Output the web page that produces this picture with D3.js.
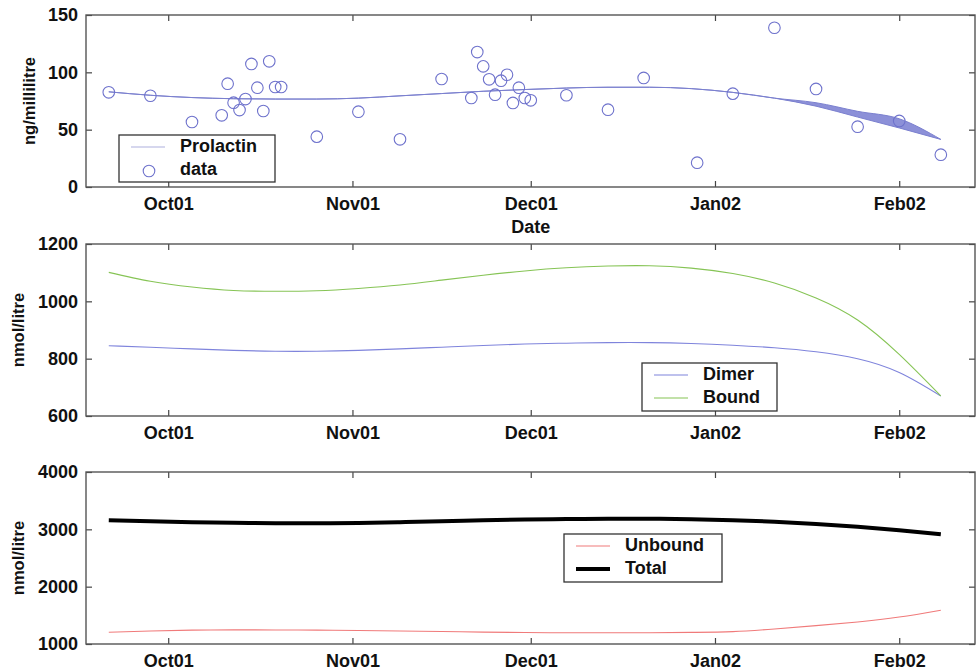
<!DOCTYPE html>
<html>
<head>
<meta charset="utf-8">
<script src="https://cdn.jsdelivr.net/npm/d3@7"></script>
<style>
  html, body { margin: 0; padding: 0; background: #fff; }
  svg { display: block; }
  text { font-family: "Liberation Sans", Arial, sans-serif; font-weight: bold; fill: #111; }
</style>
</head>
<body>
<svg id="chart" width="980" height="670"></svg>
<script>
// ---------- DATA ----------
const dataDates = ["2001-09-21","2001-09-28","2001-10-05","2001-10-10","2001-10-11","2001-10-12","2001-10-13","2001-10-14","2001-10-15","2001-10-16","2001-10-17","2001-10-18","2001-10-19","2001-10-20","2001-10-26","2001-11-02","2001-11-09","2001-11-16","2001-11-21","2001-11-22","2001-11-23","2001-11-24","2001-11-25","2001-11-26","2001-11-27","2001-11-28","2001-11-29","2001-11-30","2001-12-01","2001-12-07","2001-12-14","2001-12-20","2001-12-29","2002-01-04","2002-01-11","2002-01-18","2002-01-25","2002-02-01","2002-02-08"];
const prolactinData = [82.6,79.6,56.7,62.5,90.1,73.5,67.1,76.7,107.3,86.6,66.3,109.6,87.2,87.2,43.9,65.7,41.6,94.2,77.6,117.7,105.2,93.9,80.5,92.7,97.9,73.3,86.6,77.6,75.6,80,67.4,95.1,21.2,81.4,138.9,85.5,52.6,57.6,28.2];

const fitDates = ["2001-09-21","2001-09-28","2001-10-05","2001-10-12","2001-10-19","2001-10-26","2001-11-02","2001-11-09","2001-11-16","2001-11-23","2001-11-30","2001-12-07","2001-12-14","2001-12-21","2001-12-28","2002-01-04","2002-01-11","2002-01-18","2002-01-25","2002-02-01","2002-02-08"];
const prolactinFit      = [83,80,78,77,76.7,76.7,77.5,79.5,81.5,83.5,85,86.3,87,87,85.8,82.5,77.5,70.5,61,51.5,41.5];
const prolactinFitUpper = [83,80,78,77,76.7,76.7,77.5,79.5,81.5,83.5,85,86.3,87,87,85.8,82.5,77.5,73.5,66,59.5,41.5];
const dimer   = [845,840,834,829,826,826,829,834,840,846,851,854,856,856,853,847,838,824,800,752,670];
const bound   = [1101,1070,1050,1038,1035,1037,1045,1057,1074,1091,1106,1117,1123,1124,1116,1097,1064,1012,935,815,670];
const unbound = [1204,1228,1242,1246,1245,1242,1236,1227,1217,1208,1200,1196,1195,1197,1203,1215,1262,1320,1385,1470,1590];
const total   = [3158,3140,3125,3115,3108,3105,3110,3125,3140,3158,3172,3180,3185,3186,3178,3160,3132,3095,3045,2985,2913];

const xDomain = ["2001-09-17T04:00:00Z","2002-02-13T18:00:00Z"];
const yTicks1 = [0,50,100,150];
const yTicks2 = [600,800,1000,1200];
const yTicks3 = [1000,2000,3000,4000];

// ---------- LAYOUT ----------
const svg = d3.select("#chart");
const parse = s => new Date(s.length > 10 ? s : s + "T00:00:00Z");
const L = 86, R = 975;
const x = d3.scaleUtc().domain(xDomain.map(parse)).range([L, R]);
const monthTicks = d3.utcMonth.range(parse("2001-10-01"), parse("2002-02-02"));
const fmt = d3.utcFormat("%b%y");

function panel(top, bottom, yDomain, yTicks, yLabel, labelX) {
  const y = d3.scaleLinear().domain(yDomain).range([bottom, top]);
  const g = svg.append("g");
  const xb = g.append("g").attr("transform", `translate(0,${bottom})`)
    .call(d3.axisBottom(x).tickValues(monthTicks).tickFormat(fmt).tickSizeInner(-6).tickSizeOuter(0).tickPadding(10));
  const xt = g.append("g").attr("transform", `translate(0,${top})`)
    .call(d3.axisTop(x).tickValues(monthTicks).tickFormat("").tickSizeInner(-6).tickSizeOuter(0));
  const yl = g.append("g").attr("transform", `translate(${L},0)`)
    .call(d3.axisLeft(y).tickValues(yTicks).tickFormat(d3.format("d")).tickSizeInner(-6).tickSizeOuter(0).tickPadding(8));
  const yr = g.append("g").attr("transform", `translate(${R},0)`)
    .call(d3.axisRight(y).tickValues(yTicks).tickFormat("").tickSizeInner(-6).tickSizeOuter(0));
  [xb, xt, yl, yr].forEach(a => {
    a.select(".domain").remove();
    a.selectAll("line").attr("stroke", "#444").attr("stroke-width", 1.2);
    a.selectAll("text").attr("font-size", 18).attr("font-family", "Liberation Sans, Arial, sans-serif")
      .attr("font-weight", "bold").attr("fill", "#111");
  });
  g.append("rect").attr("x", L).attr("y", top).attr("width", R - L).attr("height", bottom - top)
    .attr("fill", "none").attr("stroke", "#555").attr("stroke-width", 1.4);
  g.append("text").attr("transform", `translate(${labelX},${(top + bottom) / 2}) rotate(-90)`)
    .attr("text-anchor", "middle").attr("dominant-baseline", "middle")
    .attr("font-size", 16.5).text(yLabel);
  return { g, y };
}

function legend(gx, gy, w, h, items) {
  const g = svg.append("g");
  g.append("rect").attr("x", gx).attr("y", gy).attr("width", w).attr("height", h)
    .attr("fill", "#fff").attr("stroke", "#333").attr("stroke-width", 1.3);
  items.forEach((it, i) => {
    const cy = gy + 12 + i * 23;
    if (it.type === "circle") {
      g.append("circle").attr("cx", gx + 30).attr("cy", cy + 1).attr("r", 5.8)
        .attr("fill", "none").attr("stroke", it.color).attr("stroke-width", 1.1);
    } else {
      g.append("line").attr("x1", gx + 12).attr("x2", gx + 46).attr("y1", cy).attr("y2", cy)
        .attr("stroke", it.color).attr("stroke-width", it.width);
    }
    g.append("text").attr("x", gx + 61).attr("y", cy).attr("dominant-baseline", "middle")
      .attr("font-size", 18).text(it.label);
  });
}

const fd = fitDates.map(parse);
const curve = d3.curveNatural;

// ---------- PANEL 1 ----------
const p1 = panel(15, 187, [0, 150], yTicks1, "ng/millilitre", 31);
p1.g.append("path")
  .datum(fd.map((d, i) => ({ d, lo: prolactinFit[i], hi: prolactinFitUpper[i] })))
  .attr("d", d3.area().x(o => x(o.d)).y0(o => p1.y(o.lo)).y1(o => p1.y(o.hi)).curve(d3.curveMonotoneX))
  .attr("fill", "#8c90d8").attr("stroke", "#7b80cf").attr("stroke-width", 1);
p1.g.selectAll("circle.pt").data(dataDates.map((d, i) => ({ d: parse(d), v: prolactinData[i] })))
  .join("circle").attr("class", "pt")
  .attr("cx", o => x(o.d)).attr("cy", o => p1.y(o.v)).attr("r", 5.8)
  .attr("fill", "none").attr("stroke", "#6e72cc").attr("stroke-width", 1.1);
svg.append("text").attr("x", x(parse("2001-12-01"))).attr("y", 233)
  .attr("text-anchor", "middle").attr("font-size", 18).text("Date");
legend(119, 135, 156, 47, [
  { label: "Prolactin", color: "#c8cae8", width: 1.5 },
  { label: "data", type: "circle", color: "#6e72cc" }
]);

// ---------- PANEL 2 ----------
const p2 = panel(244, 416, [600, 1200], yTicks2, "nmol/litre", 20);
const line2 = arr => d3.line().x((d, i) => x(fd[i])).y(v => p2.y(v)).curve(curve)(arr);
p2.g.append("path").attr("d", line2(dimer)).attr("fill", "none").attr("stroke", "#7f84dc").attr("stroke-width", 1.1);
p2.g.append("path").attr("d", line2(bound)).attr("fill", "none").attr("stroke", "#86c455").attr("stroke-width", 1.1);
legend(642, 363, 135, 48, [
  { label: "Dimer", color: "#7f84dc", width: 1.1 },
  { label: "Bound", color: "#86c455", width: 1.1 }
]);

// ---------- PANEL 3 ----------
const p3 = panel(472, 644, [1000, 4000], yTicks3, "nmol/litre", 20);
const line3 = arr => d3.line().x((d, i) => x(fd[i])).y(v => p3.y(v)).curve(curve)(arr);
p3.g.append("path").attr("d", line3(unbound)).attr("fill", "none").attr("stroke", "#f07a7a").attr("stroke-width", 1.1);
p3.g.append("path").attr("d", line3(total)).attr("fill", "none").attr("stroke", "#000").attr("stroke-width", 4);
legend(564, 534, 158, 48, [
  { label: "Unbound", color: "#f07a7a", width: 1.1 },
  { label: "Total", color: "#000", width: 4 }
]);
</script>
</body>
</html>
